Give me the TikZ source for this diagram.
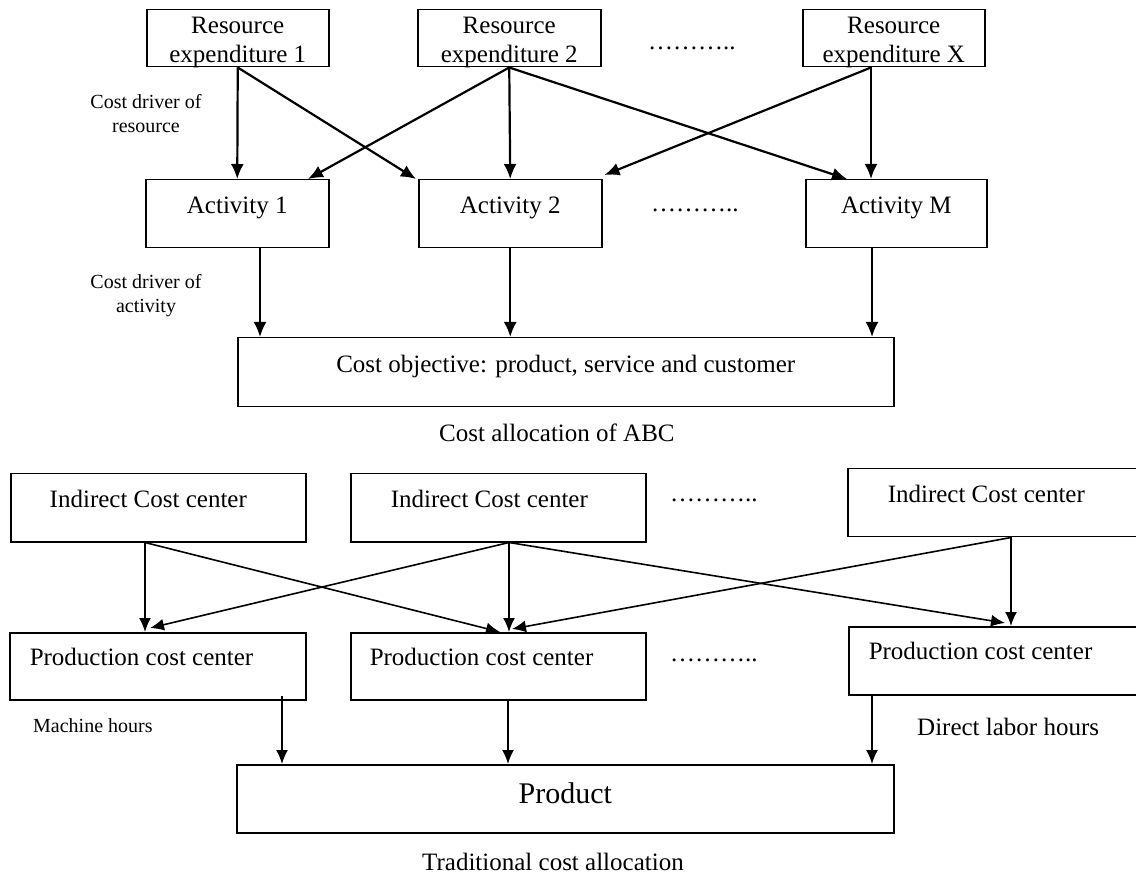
\documentclass[tikz,border=0pt]{standalone}
\usepackage{fontspec}
\setmainfont{Liberation Serif}
\usetikzlibrary{arrows.meta,calc}
\newcommand\indtext[3]{\makebox[#1][l]{\hspace*{#2}#3}}
\begin{document}
\begin{tikzpicture}[x=1pt,y=-1pt,
  bx/.style n args={3}{draw, line width=1.5pt, inner sep=0pt, anchor=north west,
     minimum width=#1, text height=#2, text depth=#3, font=\fontsize{25pt}{29pt}\selectfont},
  topc/.style={line width=2.2pt, -{Latex[length=15pt,width=13pt]}},
  botc/.style={line width=1.6pt, -{Latex[length=14pt,width=12pt]}},
  ftxt/.style={font=\fontsize{25pt}{29pt}\selectfont, inner sep=0pt},
  fsmall/.style={font=\fontsize{20pt}{24pt}\selectfont, inner sep=0pt},
]
\useasboundingbox (0,0) rectangle (1136,874);

% ---------- ABC part ----------
\node[bx={182pt}{24pt}{33pt}] (re1) at (146,9) {\parbox[t]{182pt}{\centering Resource\\expenditure 1}};
\node[bx={183pt}{24pt}{33pt}] (re2) at (417,9) {\parbox[t]{183pt}{\centering Resource\\expenditure 2}};
\node[bx={182pt}{24pt}{33pt}] (rex) at (802,9) {\parbox[t]{182pt}{\centering Resource\\expenditure X}};
\node[ftxt, anchor=base west] (dots1) at (648,50) {………..};

\node[bx={183pt}{34pt}{34pt}] (act1) at (145,179) {Activity 1};
\node[bx={183pt}{34pt}{34pt}] (act2) at (418,179) {Activity 2};
\node[bx={181pt}{34pt}{34pt}] (actm) at (805,179) {Activity M};
\node[ftxt, anchor=base west] (dots2) at (651,212) {………..};

\node[bx={656pt}{35pt}{34pt}] (cobj) at (237,337) {Cost objective: product, service and customer};
\node[ftxt, anchor=base west] (cap1) at (439,442) {Cost allocation of ABC};

\node[fsmall, align=center, anchor=north] (cdr) at (146,94) {Cost driver of\\resource};
\node[fsmall, align=center, anchor=north] (cda) at (146,274) {Cost driver of\\activity};

\coordinate (rexo) at ($(rex.south west)+(69,0)$);
\draw[topc] (re1.south) -- (act1.north);
\draw[topc] (re1.south) -- ($(act2.north west)+(-2,0)$);
\draw[topc] (re2.south) -- ($(act1.north west)+(163,0)$);
\draw[topc] (re2.south) -- (act2.north);
\draw[topc] (re2.south) -- ($(actm.north west)+(42,0)$);
\draw[topc] (rexo) -- ($(act2.north east)+(2,-4)$);
\draw[topc] (rexo) -- (rexo |- actm.north);

\coordinate (a1o) at ($(act1.south west)+(115,0)$);
\coordinate (amo) at ($(actm.south west)+(67,0)$);
\draw[topc] (a1o) -- (a1o |- cobj.north);
\draw[topc] (act2.south) -- (act2.south |- cobj.north);
\draw[topc] (amo) -- (amo |- cobj.north);

% ---------- Traditional part ----------
\node[bx={295pt}{34pt}{34pt}] (ind1) at (10,473) {\indtext{295pt}{39pt}{Indirect Cost center}};
\node[bx={295pt}{34pt}{34pt}] (ind2) at (350,473) {\indtext{295pt}{40pt}{Indirect Cost center}};
\node[bx={292pt}{34pt}{34pt}] (ind3) at (847,468) {\indtext{292pt}{40pt}{Indirect Cost center}};
\node[ftxt, anchor=base west] (dots3) at (670,502) {………..};

\node[bx={296pt}{33pt}{34pt}] (p1) at (9,632) {\indtext{296pt}{20pt}{Production cost center}};
\node[bx={295pt}{33pt}{34pt}] (p2) at (350,632) {\indtext{295pt}{19pt}{Production cost center}};
\node[bx={291pt}{33pt}{35pt}] (p3) at (848,626) {\indtext{291pt}{20pt}{Production cost center}};
\node[ftxt, anchor=base west] (dots4) at (670,661) {………..};

\node[fsmall, anchor=base west] (mh) at (33,732) {Machine hours};
\node[ftxt, anchor=base west] (dlh) at (917,735) {Direct labor hours};

\node[bx={657pt}{39pt}{29pt}, font=\fontsize{30pt}{34pt}\selectfont] (prod) at (236,764) {Product};
\node[ftxt, anchor=base west] (cap2) at (422,870) {Traditional cost allocation};

\coordinate (i1o) at ($(ind1.south west)+(135,0)$);
\coordinate (i2o) at ($(ind2.south west)+(159,0)$);
\coordinate (i3o) at ($(ind3.south west)+(164,0)$);
\draw[botc] (i1o) -- (i1o |- p1.north);
\draw[botc] (i1o) -- ($(p2.north west)+(150,0)$);
\draw[botc] (i2o) -- ($(p1.north west)+(141,-4)$);
\draw[botc] (i2o) -- (i2o |- p2.north);
\draw[botc] (i2o) -- ($(p3.north west)+(157,-3)$);
\draw[botc] (i3o) -- ($(p2.north west)+(162,-3)$);
\draw[botc] (i3o) -- (i3o |- p3.north);

\coordinate (p1o) at ($(p1.south west)+(273,-5)$);
\coordinate (p2o) at ($(p2.south west)+(158,0)$);
\coordinate (p3o) at ($(p3.south west)+(24,0)$);
\draw[botc] (p1o) -- (p1o |- prod.north);
\draw[botc] (p2o) -- (p2o |- prod.north);
\draw[botc] (p3o) -- (p3o |- prod.north);
\end{tikzpicture}
\end{document}
